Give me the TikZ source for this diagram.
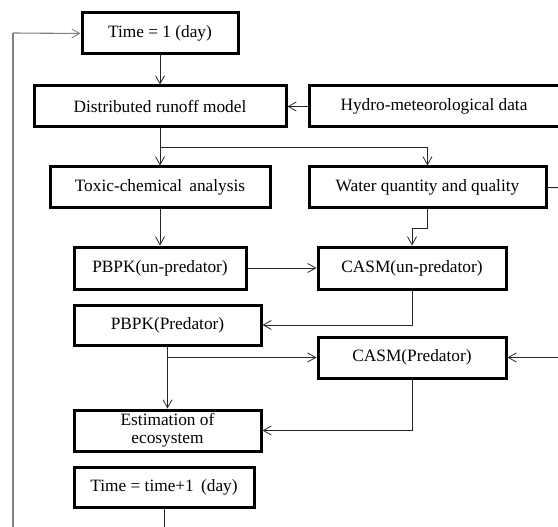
\documentclass[tikz,border=0pt]{standalone}
\usepackage{fontspec}
\setmainfont{Liberation Serif}
\usetikzlibrary{arrows.meta}
\begin{document}
\begin{tikzpicture}[x=1pt,y=-1pt,
  box/.style={draw=black, line width=3pt, fill=white, inner sep=0pt, font=\fontsize{17.3}{18}\selectfont, align=center},
  conn/.style={draw=black!85, line width=0.9pt, -{Straight Barb[length=8pt,width=9pt,line width=0.8pt]}},
  plain/.style={draw=black!85, line width=0.9pt},
  loop/.style={draw=black!50, line width=1.1pt}]
\useasboundingbox (0,0) rectangle (558,527);
\clip (0,0) rectangle (558,527);
\fill[white] (0,0) rectangle (558,527);
% nodes
\node[box, minimum width=156pt, minimum height=41pt] (t1) at (160,33.5) {Time = 1 (day)};
\node[box, minimum width=252pt, minimum height=41pt] (dr) at (160,106.5) {Distributed runoff model};
\node[box, minimum width=250pt, minimum height=41pt] (hy) at (434,106.5) {Hydro-meteorological data};
\node[box, minimum width=220pt, minimum height=41pt] (tox) at (160,187.5) {Toxic-chemical\, analysis};
\node[box, minimum width=237pt, minimum height=41pt] (wq) at (427.5,187.5) {Water quantity and quality};
\node[box, minimum width=172pt, minimum height=42pt] (pu) at (160,268) {PBPK(un-predator)};
\node[box, minimum width=188pt, minimum height=42pt] (cu) at (412,268) {CASM(un-predator)};
\node[box, minimum width=187pt, minimum height=40pt] (pp) at (167.5,325) {PBPK(Predator)};
\node[box, minimum width=188pt, minimum height=41pt] (cp) at (412,357.5) {CASM(Predator)};
\node[box, minimum width=187pt, minimum height=41pt, font=\fontsize{17.3}{18.5}\selectfont] (es) at (167.5,430.5) {Estimation of\\ecosystem};
\node[box, minimum width=180pt, minimum height=40pt] (t2) at (164,487) {Time = time+1\, (day)};
\coordinate (rt) at (575,188);
\coordinate (bt) at (164,545);
% connectors
\draw[conn] (t1.south) -- (dr.north);
\draw[conn] (hy.west) -- (dr.east);
\draw[conn] (dr.south) -- (tox.north);
\draw[conn] (dr.south |- 0,147) -| (wq.north);
\draw[conn] (tox.south) -- (pu.north);
\draw[conn] (wq.south) -- (wq.south |- 0,228) -| (cu.north);
\draw[conn] (pu.east) -- (cu.west);
\draw[conn] (cu.south) |- (pp.east);
\draw[conn] (pp.south) -- (es.north);
\draw[conn] (pp.south |- cp.west) -- (cp.west);
\draw[conn] (cp.south) |- (es.east);
\draw[conn] (wq.east) -- (rt) |- (cp.east);
\draw[plain] (t2.south) -- (bt);
\draw[loop] (bt) -| (13,33);
\draw[loop, -{Straight Barb[length=8pt,width=9pt,line width=0.8pt]}] (13,33) -- (t1.west);
\end{tikzpicture}
\end{document}
